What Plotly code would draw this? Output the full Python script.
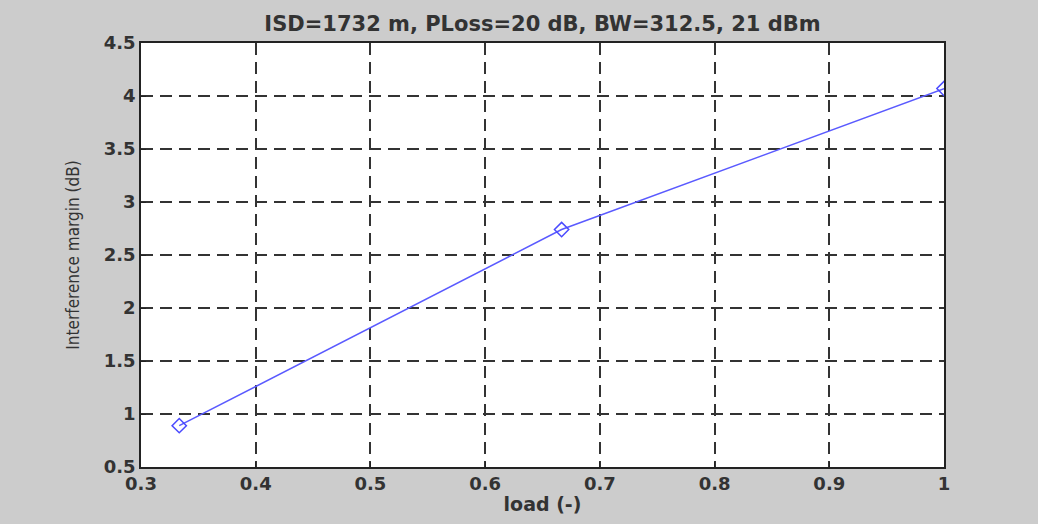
import plotly.graph_objects as go

load = [1/3, 2/3, 1.0]
margin_db = [0.89, 2.74, 4.07]
x_ticks = [0.3, 0.4, 0.5, 0.6, 0.7, 0.8, 0.9, 1]
x_tick_text = ["0.3", "0.4", "0.5", "0.6", "0.7", "0.8", "0.9", "1"]
y_ticks = [0.5, 1, 1.5, 2, 2.5, 3, 3.5, 4, 4.5]
y_tick_text = ["0.5", "1", "1.5", "2", "2.5", "3", "3.5", "4", "4.5"]

FONT = "DejaVu Sans, Liberation Sans, Arial"

fig = go.Figure()
fig.add_trace(go.Scatter(
    x=load, y=margin_db, mode="lines+markers",
    line=dict(color="#5a5aff", width=1.5),
    marker=dict(symbol="diamond-open", size=11, color="#4a4aff", line=dict(width=1.5)),
    showlegend=False,
))

axis_common = dict(
    showline=True, mirror=True, linecolor="#222", linewidth=1.5,
    showgrid=True, gridcolor="#333", gridwidth=1.5, griddash="12px,7px",
    ticks="inside", ticklen=5, tickcolor="#222", zeroline=False,
    tickfont=dict(family=FONT, size=18, color="#333", weight="bold"),
)

fig.update_layout(
    width=1038, height=524,
    paper_bgcolor="#cccccc", plot_bgcolor="white",
    margin=dict(l=141, r=94, t=43, b=54),
    title=dict(text="ISD=1732 m, PLoss=20 dB, BW=312.5, 21 dBm",
               x=0.5, xanchor="center", xref="paper", y=0.955, yanchor="middle",
               font=dict(family=FONT, size=21, color="#333", weight="bold")),
    xaxis=dict(range=[0.3, 1], tickvals=x_ticks, ticktext=x_tick_text,
               title=dict(text="load (-)", standoff=4,
                          font=dict(family=FONT, size=19, color="#333", weight="bold")),
               **axis_common),
    yaxis=dict(range=[0.5, 4.5], tickvals=y_ticks, ticktext=y_tick_text,
               title=dict(text="Interference margin (dB)", standoff=20,
                          font=dict(family="Liberation Sans Narrow, DejaVu Sans Condensed, Liberation Sans",
                                    size=17, color="#333")),
               **axis_common),
)

fig.write_html("out.html")
